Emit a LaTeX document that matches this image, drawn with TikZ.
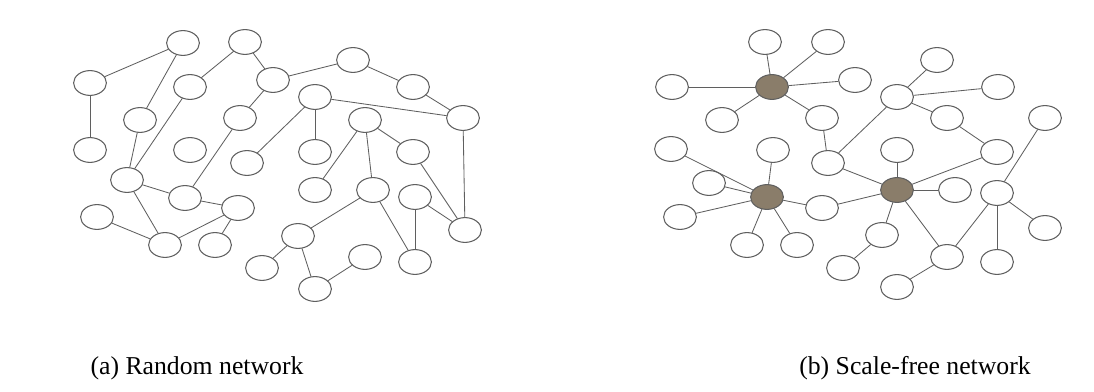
\documentclass[tikz,border=0pt]{standalone}
\usepackage{fontspec}
\setmainfont{Liberation Serif}
\usetikzlibrary{shapes.geometric}
\definecolor{hubfill}{RGB}{138,125,106}
\definecolor{edgegray}{RGB}{95,95,95}
\begin{document}
\begin{tikzpicture}[x=0.025cm, y=-0.025cm, line join = round, line cap = round,
  nd/.style = {ellipse, draw = edgegray, line width = .75pt, fill = white,
               minimum width = .82cm, minimum height = .62cm, inner sep = 0pt},
  hub/.style = {nd, fill = hubfill},
  lnk/.style = {draw = edgegray, line width = .6pt},
  captxt/.style = {anchor = base, font = \fontsize{18.3}{20}\selectfont}]
\useasboundingbox (0,0) rectangle (1094,392);
%(a) Mạng ngẫu nhiên: các đỉnh
\foreach \n/\x/\y in {a1/183/43, a2/245/42, a3/90/83, a4/190/87, a5/273/80,
  a6/140/120, a7/240/118, a8/90/150, a9/190/150, a10/247/163, a11/127/180,
  a12/185/198, a13/97/217, a14/238/208, a15/215/245, a16/165/245, a17/298/236,
  a18/262/268, a19/315/289, a20/353/60, a21/315/97, a22/413/87, a23/365/120,
  a24/463/118, a25/315/152, a26/413/152, a27/315/190, a28/373/190, a29/415/197,
  a30/465/230, a31/365/257, a32/415/262}
  \node[nd] (\n) at (\x,\y) {};
%(a) các cạnh
\foreach \u/\v in {a3/a1, a3/a8, a1/a6, a6/a11, a2/a4, a4/a11, a2/a5, a5/a7,
  a5/a20, a20/a22, a22/a24, a21/a24, a21/a25, a21/a10, a7/a12, a11/a12,
  a11/a16, a12/a14, a13/a16, a16/a14, a15/a14, a23/a27, a23/a28, a23/a26,
  a24/a30, a26/a30, a28/a17, a28/a32, a29/a32, a29/a30, a17/a18, a17/a19,
  a19/a31}
  \draw[lnk] (\u)--(\v);
%(b) Mạng phi tỉ lệ: các đỉnh thường và các đỉnh trung tâm
\foreach \n/\x/\y in {b1/765/42, b2/828/42, b3/672/87, b4/722/120, b5/822/118,
  b6/671/149, b7/773/150, b8/828/163, b9/709/183, b10/855/80, b11/680/217,
  b12/822/208, b13/747/245, b14/797/245, b15/843/268, b16/937/60, b17/897/97,
  b18/998/87, b19/947/118, b20/1045/118, b21/897/150, b22/997/152,
  b23/955/190, b24/997/193, b25/882/235, b26/1045/228, b27/947/257,
  b28/997/262, b29/897/287}
  \node[nd] (\n) at (\x,\y) {};
\foreach \n/\x/\y in {h1/772/87, h2/767/197, h3/897/190}
  \node[hub] (\n) at (\x,\y) {};
%(b) các cạnh
\foreach \u/\v in {h1/b1, h1/b2, h1/b3, h1/b4, h1/b10, h1/b5,
  h2/b6, h2/b7, h2/b9, h2/b11, h2/b12, h2/b13, h2/b14,
  h3/b8, h3/b21, h3/b22, h3/b23, h3/b12, h3/b25, h3/b27,
  b5/b8, b8/b17, b17/b16, b17/b18, b17/b19, b19/b22,
  b25/b15, b27/b29, b27/b24, b24/b28, b24/b26, b24/b20}
  \draw[lnk] (\u)--(\v);
%Chú thích
\node[captxt] (capa) at (197,375) {(a) Random network};
\node[captxt] (capb) at (915,375) {(b) Scale-free network};
\end{tikzpicture}
\end{document}
